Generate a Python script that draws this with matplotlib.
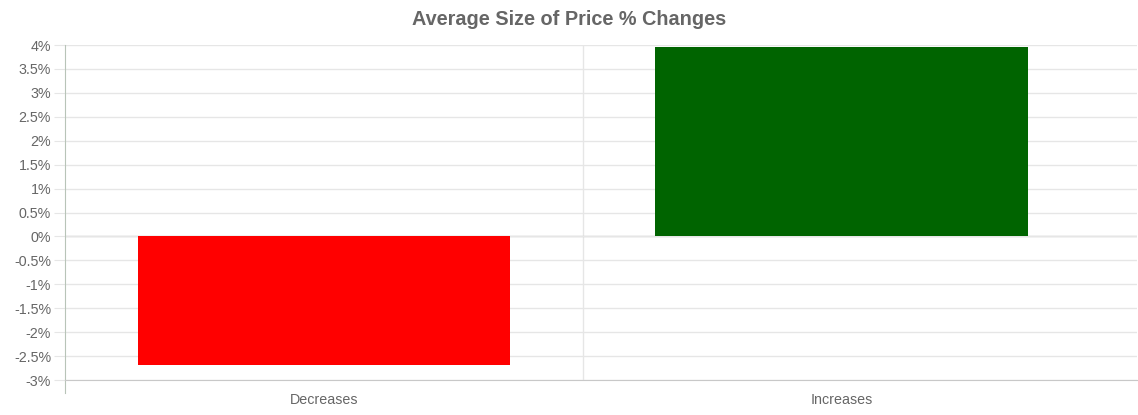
import matplotlib.pyplot as plt
import matplotlib.ticker as mticker

plt.rcParams['font.family'] = ['Liberation Sans', 'DejaVu Sans']

# Data
categories = ["Decreases", "Increases"]
avg_change = [-2.68, 3.96]
bar_colors = ["#ff0000", "#006400"]

fig = plt.figure(figsize=(11.38, 4.15), dpi=100)
ax = fig.add_axes([65 / 1138, 35 / 415, 1072 / 1138, 335 / 415])

x = range(len(categories))
ax.bar(x, avg_change, width=0.72, color=bar_colors, zorder=3)

ax.set_ylim(-3, 4)
ax.set_yticks([v / 2 for v in range(-6, 9)])
ax.yaxis.set_major_formatter(mticker.FuncFormatter(lambda v, _: f"{v:g}%"))
ax.set_xlim(-0.5, 1.57)
ax.set_xticks(list(x))
ax.set_xticklabels(categories)

ax.grid(axis="y", color="#e6e6e6", linewidth=1, zorder=0)
ax.axvline(0.5, color="#e6e6e6", linewidth=1, zorder=0)
ax.axhline(0, color="#c8c8c8", linewidth=1, zorder=1)

for s in ["top", "right"]:
    ax.spines[s].set_visible(False)
ax.spines["left"].set_color("#b8c4b8")
ax.spines["bottom"].set_color("#c8c8c8")
ax.spines["left"].set_bounds(-3.27, 4)

ax.tick_params(axis="y", length=8, color="#e6e6e6", labelcolor="#666666", labelsize=10.3, pad=2)
ax.tick_params(axis="x", length=0, labelcolor="#666666", labelsize=10.3, pad=9)

fig.suptitle("Average Size of Price % Changes", x=569 / 1138, y=0.975, fontsize=14.3,
             fontweight="bold", color="#666666")

fig.savefig("out.png", dpi=100)
